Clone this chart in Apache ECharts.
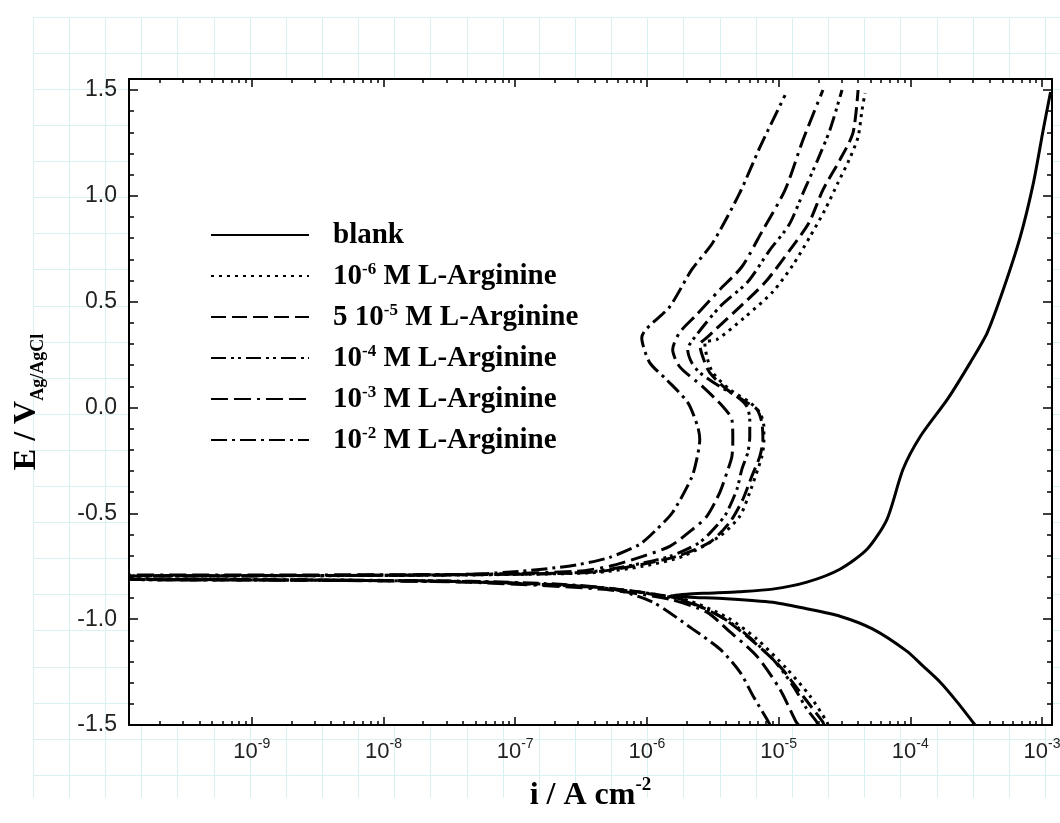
<!DOCTYPE html>
<html>
<head>
<meta charset="utf-8">
<script src="https://cdn.jsdelivr.net/npm/echarts@6/dist/echarts.min.js"></script>
<style>
  html, body { margin: 0; padding: 0; background: #fff; }
  #chart { width: 1060px; height: 823px; }
</style>
</head>
<body>
<div id="chart"></div>
<script>
// [i (A cm^-2), E (V vs Ag/AgCl)], in scan order: cathodic branch up to Ecorr, then anodic branch
const blank = [
  [3.1e-4, -1.5], [2.27e-4, -1.392], [1.68e-4, -1.297], [1.25e-4, -1.222], [9.4e-5, -1.151],
  [5.2e-5, -1.047], [2.92e-5, -0.986], [1.6e-5, -0.950], [9.0e-6, -0.920], [4.0e-6, -0.903],
  [2.1e-6, -0.896], [1.5e-6, -0.890], [2.0e-6, -0.882], [2.85e-6, -0.877], [5.0e-6, -0.870],
  [9.0e-6, -0.858], [1.64e-5, -0.825], [2.92e-5, -0.764], [4.69e-5, -0.670], [6.65e-5, -0.528],
  [8.8e-5, -0.292], [1.19e-4, -0.137], [1.91e-4, 0.038], [2.85e-4, 0.212], [3.84e-4, 0.354],
  [5.08e-4, 0.557], [6.84e-4, 0.807], [8.6e-4, 1.061], [1.02e-3, 1.311], [1.16e-3, 1.491]
];
const arg1e6 = [
  [2.37e-5, -1.5], [2.33e-5, -1.486], [1.73e-5, -1.363], [1.16e-5, -1.236], [6.84e-6, -1.094],
  [4.05e-6, -0.991], [1.9e-6, -0.906], [4.4e-7, -0.852], [4.5e-8, -0.823], [2.3e-9, -0.815],
  [1.2e-10, -0.812], [1.2e-10, -0.797], [2.3e-9, -0.795], [4.5e-8, -0.791], [4.0e-7, -0.780],
  [9.29e-7, -0.750], [1.87e-6, -0.703], [3.58e-6, -0.608], [5.07e-6, -0.514], [6.04e-6, -0.401],
  [6.95e-6, -0.292], [7.46e-6, -0.231], [7.73e-6, -0.165], [7.73e-6, -0.090], [7.2e-6, -0.024],
  [6.04e-6, 0.024], [4.26e-6, 0.085], [3.16e-6, 0.165], [2.85e-6, 0.241], [2.75e-6, 0.307],
  [3.4e-6, 0.321], [5.5e-6, 0.425], [9.05e-6, 0.547], [1.29e-5, 0.675], [1.73e-5, 0.807],
  [2.25e-5, 0.934], [2.82e-5, 1.061], [3.43e-5, 1.170], [4.01e-5, 1.278], [4.3e-5, 1.406],
  [4.53e-5, 1.486]
];
const arg5e5 = [
  [2.2e-5, -1.5], [2.17e-5, -1.486], [1.53e-5, -1.363], [1.02e-5, -1.222], [5.74e-6, -1.080],
  [3.58e-6, -0.986], [1.8e-6, -0.905], [4.4e-7, -0.850], [4.5e-8, -0.823], [2.3e-9, -0.815],
  [1.2e-10, -0.811], [1.2e-10, -0.796], [2.3e-9, -0.794], [4.5e-8, -0.790], [3.49e-7, -0.780],
  [7.03e-7, -0.755], [1.69e-6, -0.703], [3.0e-6, -0.637], [4.26e-6, -0.542], [5.35e-6, -0.434],
  [6.26e-6, -0.325], [7.2e-6, -0.231], [7.6e-6, -0.151], [7.46e-6, -0.071], [6.84e-6, -0.009],
  [5.74e-6, 0.024], [4.05e-6, 0.085], [3.0e-6, 0.165], [2.65e-6, 0.241], [2.52e-6, 0.297],
  [2.85e-6, 0.330], [4.65e-6, 0.453], [7.87e-6, 0.590], [1.22e-5, 0.745], [1.7e-5, 0.873],
  [2.17e-5, 1.028], [2.92e-5, 1.170], [3.67e-5, 1.297], [4.01e-5, 1.5]
];
const arg1e4 = [
  [1.98e-5, -1.5], [1.95e-5, -1.486], [1.64e-5, -1.425], [1.29e-5, -1.316], [9.05e-6, -1.189],
  [5.07e-6, -1.047], [3.16e-6, -0.967], [1.6e-6, -0.900], [4.4e-7, -0.852], [4.5e-8, -0.824],
  [2.3e-9, -0.815], [1.2e-10, -0.811], [1.2e-10, -0.795], [2.3e-9, -0.794], [4.5e-8, -0.790],
  [3.49e-7, -0.778], [7.03e-7, -0.750], [1.49e-6, -0.703], [2.52e-6, -0.637], [3.58e-6, -0.542],
  [4.05e-6, -0.495], [4.82e-6, -0.387], [5.26e-6, -0.292], [5.84e-6, -0.212], [6.04e-6, -0.137],
  [6.04e-6, -0.057], [5.74e-6, 0.005], [4.82e-6, 0.052], [3.58e-6, 0.099], [2.52e-6, 0.165],
  [2.19e-6, 0.212], [2.04e-6, 0.274], [2.39e-6, 0.344], [3.58e-6, 0.476], [5.84e-6, 0.594],
  [8.59e-6, 0.745], [1.2e-5, 0.863], [1.57e-5, 1.028], [1.98e-5, 1.170], [2.45e-5, 1.311],
  [3.03e-5, 1.5]
];
const arg1e3 = [
  [1.42e-5, -1.5], [1.36e-5, -1.486], [1.02e-5, -1.330], [6.84e-6, -1.175], [4.05e-6, -1.047],
  [2.85e-6, -0.967], [1.49e-6, -0.906], [4.4e-7, -0.858], [4.5e-8, -0.826], [2.3e-9, -0.816],
  [1.2e-10, -0.811], [1.2e-10, -0.792], [2.3e-9, -0.791], [4.5e-8, -0.788], [2.92e-7, -0.774],
  [5.21e-7, -0.750], [9.29e-7, -0.703], [1.49e-6, -0.656], [2.23e-6, -0.575], [2.85e-6, -0.514],
  [3.58e-6, -0.401], [4.05e-6, -0.307], [4.42e-6, -0.231], [4.49e-6, -0.151], [4.42e-6, -0.057],
  [3.77e-6, 0.005], [2.65e-6, 0.099], [1.77e-6, 0.193], [1.57e-6, 0.274], [1.77e-6, 0.354],
  [2.39e-6, 0.439], [3.58e-6, 0.557], [5.26e-6, 0.665], [7.46e-6, 0.830], [1.12e-5, 1.028],
  [1.53e-5, 1.264], [2.17e-5, 1.5]
];
const arg1e2 = [
  [8.6e-6, -1.5], [8.14e-6, -1.472], [6.4e-6, -1.363], [5.09e-6, -1.250], [3.59e-6, -1.142],
  [2.23e-6, -1.047], [1.11e-6, -0.920], [5.5e-7, -0.858], [2.17e-7, -0.835], [4.5e-8, -0.821],
  [2.3e-9, -0.814], [1.2e-10, -0.810], [1.2e-10, -0.797], [2.3e-9, -0.795], [4.5e-8, -0.788],
  [1.08e-7, -0.774], [2.17e-7, -0.755], [3.08e-7, -0.741], [5.21e-7, -0.708], [8.83e-7, -0.646],
  [1.19e-6, -0.575], [1.57e-6, -0.495], [2.19e-6, -0.330], [2.39e-6, -0.245], [2.52e-6, -0.151],
  [2.43e-6, -0.090], [2.04e-6, 0.024], [1.41e-6, 0.132], [1.05e-6, 0.212], [9.14e-7, 0.330],
  [1.49e-6, 0.476], [2.19e-6, 0.651], [3.16e-6, 0.778], [5.07e-6, 1.014], [7.23e-6, 1.231],
  [1.12e-5, 1.476]
];

const seriesNames = ['blank', '1e-6', '5e-5', '1e-4', '1e-3', '1e-2'];
const seriesData = [blank, arg1e6, arg5e5, arg1e4, arg1e3, arg1e2];
const legendLabels = [
  '{t|blank}',
  '{t|10}{s|-6}{t| M L-Arginine}',
  '{t|5 10}{s|-5}{t| M L-Arginine}',
  '{t|10}{s|-4}{t| M L-Arginine}',
  '{t|10}{s|-3}{t| M L-Arginine}',
  '{t|10}{s|-2}{t| M L-Arginine}'
];
const dashes = ['solid', [3, 5], [15, 6], [15, 5, 3, 4, 3, 5], [17, 6, 17, 6, 3, 6], [16, 5, 3, 5]];

const xMajor = [1e-9, 1e-8, 1e-7, 1e-6, 1e-5, 1e-4, 1e-3];
const yMajor = [-1.5, -1.0, -0.5, 0.0, 0.5, 1.0, 1.5];
const X_MIN = 1.17e-10, X_MAX = 1.19e-3, Y_MIN = -1.5, Y_MAX = 1.552;

const xMinor = [];
for (let p = -10; p <= -3; p++) {
  for (let k = 2; k <= 9; k++) {
    const v = k * Math.pow(10, p);
    if (v > X_MIN && v < X_MAX) xMinor.push(v);
  }
}
const yMinor = [];
for (let k = -14; k <= 15; k++) {
  if (k % 5 !== 0) yMinor.push(k / 10);
}

const chart = echarts.init(document.getElementById('chart'));

const serifBold = { fontFamily: 'Liberation Serif', fontWeight: 'bold', color: '#000' };
const sans = 'Liberation Sans';
const tickStyle = { color: '#000', width: 1.5 };

function xAx(opts) {
  return Object.assign({
    type: 'log', gridIndex: 1, min: X_MIN, max: X_MAX, z: 3,
    axisLine: { show: false, onZero: false },
    axisLabel: { show: false },
    splitLine: { show: false }
  }, opts);
}
function yAx(opts) {
  return Object.assign({
    type: 'value', gridIndex: 1, min: Y_MIN, max: Y_MAX, z: 3,
    axisLine: { show: false, onZero: false },
    axisLabel: { show: false },
    splitLine: { show: false }
  }, opts);
}
const border = { show: true, onZero: false, lineStyle: { color: '#000', width: 2 } };
const ticks = (vals, len) => ({ show: true, inside: true, length: len, customValues: vals, lineStyle: tickStyle });

const option = {
  animation: false,
  backgroundColor: '#fff',
  grid: [
    { left: 33, top: 17, right: 0, bottom: 25, outerBoundsMode: 'none' },
    { left: 129, top: 79, right: 8, bottom: 98, show: true, backgroundColor: '#fff',
      borderWidth: 0, z: 1, outerBoundsMode: 'none' }
  ],
  xAxis: [
    { type: 'value', gridIndex: 0, min: 0, max: 1027, interval: 36.15, z: 0,
      axisLine: { show: false }, axisTick: { show: false }, axisLabel: { show: false },
      splitLine: { show: true, lineStyle: { color: '#d9f1f1', width: 1 } } },
    xAx({
      position: 'bottom',
      axisLine: border,
      axisTick: ticks(xMajor, 8),
      axisLabel: {
        show: true, customValues: xMajor, margin: 12,
        formatter: v => '{b|10}{s|' + Math.round(Math.log10(v)) + '}',
        rich: {
          b: { fontFamily: sans, fontSize: 22, color: '#222', lineHeight: 26, verticalAlign: 'bottom' },
          s: { fontFamily: sans, fontSize: 14, color: '#222', lineHeight: 14, verticalAlign: 'top' }
        }
      },
      name: '{b|i / A cm}{s|-2}', nameLocation: 'middle', nameGap: 51,
      nameTextStyle: {
        rich: {
          b: Object.assign({ fontSize: 32, lineHeight: 36, verticalAlign: 'bottom' }, serifBold),
          s: Object.assign({ fontSize: 19, lineHeight: 19, verticalAlign: 'top' }, serifBold)
        }
      }
    }),
    xAx({ position: 'bottom', axisTick: ticks(xMinor, 4) }),
    xAx({ position: 'top', axisLine: border, axisTick: ticks(xMajor, 8) }),
    xAx({ position: 'top', axisTick: ticks(xMinor, 4) })
  ],
  yAxis: [
    { type: 'value', gridIndex: 0, inverse: true, min: 0, max: 781, interval: 36.1, z: 0,
      axisLine: { show: false }, axisTick: { show: false }, axisLabel: { show: false },
      splitLine: { show: true, showMaxLine: false, lineStyle: { color: '#d9f1f1', width: 1 } } },
    yAx({
      position: 'left',
      axisLine: border,
      axisTick: ticks(yMajor, 9),
      axisLabel: { show: true, customValues: yMajor, margin: 12, fontFamily: sans, fontSize: 23,
        color: '#222', formatter: v => v.toFixed(1) },
      name: '{b|E / V}{s|Ag/AgCl}', nameLocation: 'middle', nameRotate: 90, nameGap: 82,
      nameTextStyle: {
        rich: {
          b: Object.assign({ fontSize: 32, lineHeight: 36, verticalAlign: 'top' }, serifBold),
          s: Object.assign({ fontSize: 18, lineHeight: 18, verticalAlign: 'bottom' }, serifBold)
        }
      }
    }),
    yAx({ position: 'left', axisTick: ticks(yMinor, 5) }),
    yAx({ position: 'right', axisLine: border, axisTick: ticks(yMajor, 9) }),
    yAx({ position: 'right', axisTick: ticks(yMinor, 5) })
  ],
  legend: {
    orient: 'vertical', left: 205, top: 216, itemWidth: 98, itemHeight: 14, itemGap: 11,
    selectedMode: false,
    itemStyle: { opacity: 0 },
    data: seriesNames,
    formatter: name => legendLabels[seriesNames.indexOf(name)],
    textStyle: {
      padding: [0, 0, 0, 19],
      rich: {
        t: Object.assign({ fontSize: 29, lineHeight: 30, verticalAlign: 'bottom' }, serifBold),
        s: Object.assign({ fontSize: 17, lineHeight: 17, verticalAlign: 'top' }, serifBold)
      }
    }
  },
  series: seriesNames.map((name, k) => ({
    name: name,
    type: 'line',
    xAxisIndex: 1,
    yAxisIndex: 1,
    data: seriesData[k],
    symbol: 'none',
    smooth: 0.25,
    z: 2,
    lineStyle: { color: '#000', width: 3, type: dashes[k] },
    itemStyle: { color: '#000' }
  }))
};

chart.setOption(option);
</script>
</body>
</html>
